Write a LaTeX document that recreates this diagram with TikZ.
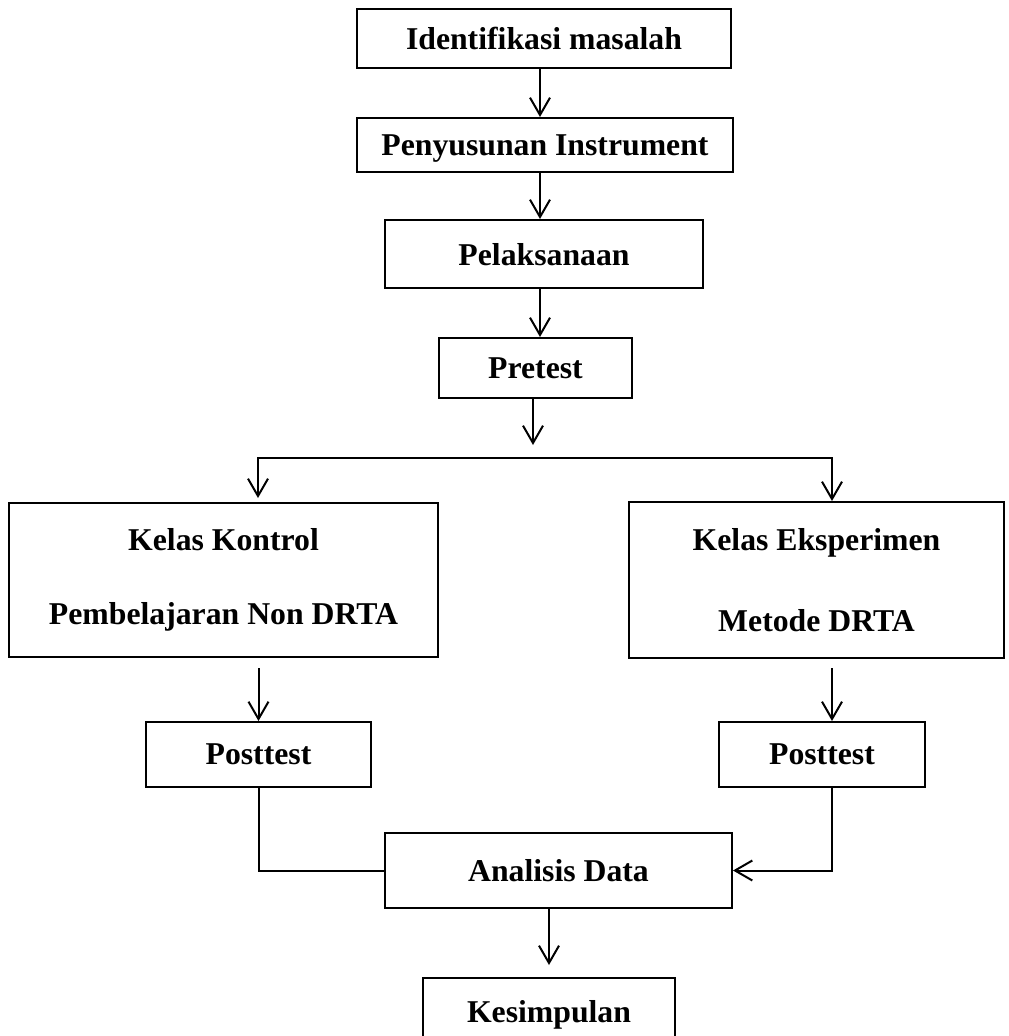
\documentclass[tikz,border=0pt]{standalone}
\usepackage{fontspec}
\setmainfont{Liberation Serif}
\usepackage{tikz}
\usetikzlibrary{arrows.meta,positioning,calc}

\begin{document}
\begin{tikzpicture}[x=0.75pt,y=-0.75pt,line width=1.5pt,
  box/.style={draw, rectangle, inner sep=0pt, text depth=0pt, font=\fontsize{23.8}{28}\selectfont\bfseries},
  bigbox/.style={draw, rectangle, inner sep=0pt, align=center, font=\fontsize{23.8}{55}\selectfont\bfseries},
  arr/.style={-{Straight Barb[length=13pt,width=15pt]}}]
\useasboundingbox (0,0) rectangle (1008,1036);
\clip (0,0) rectangle (1008,1036);

% Tahap awal
\node[box, minimum width=280.5pt, minimum height=44.25pt] (idn) at (544,38.5) {Identifikasi masalah};
\node[box, minimum width=282pt, minimum height=40.5pt] (pen) at (545,145) {Penyusunan Instrument};
\node[box, minimum width=238.5pt, minimum height=51pt] (pel) at (544,254) {Pelaksanaan};
\node[box, minimum width=144.75pt, minimum height=45pt] (pre) at (535.5,368) {Pretest};
\coordinate (midcol) at (540,0);
\foreach \a/\b in {idn/pen, pen/pel, pel/pre} {
    \draw[arr] (midcol |- \a.south) -- (midcol |- \b.north);
}

% Kelas kontrol dan kelas eksperimen
\node[bigbox, minimum width=321.75pt, minimum height=115.5pt] (kon) at (223.5,580) {Kelas Kontrol\\Pembelajaran Non DRTA};
\node[bigbox, minimum width=281.25pt, minimum height=117pt] (eks) at (816.5,580) {Kelas Eksperimen\\[6pt]Metode DRTA};
\coordinate (spl) at (533,458);
\coordinate (rcol) at (832,0);
\draw[arr, shorten >=9.75pt] (pre.south -| spl) -- (spl);
\draw[arr, shorten >=3.75pt] (spl) -| (258,503);
\draw[arr] (spl) -| (rcol |- eks.north);

% Posttest
\node[box, minimum width=168.75pt, minimum height=48.75pt] (postL) at (258.5,754.5) {Posttest};
\node[box, minimum width=154.5pt, minimum height=48.75pt] (postR) at (822,754.5) {Posttest};
\draw[arr, shorten <=7.5pt] (postL |- kon.south) -- (postL.north);
\draw[arr, shorten <=6.75pt] (rcol |- eks.south) -- (rcol |- postR.north);

% Analisis dan kesimpulan
\node[box, minimum width=260.25pt, minimum height=56.25pt] (ana) at (558.5,870.5) {Analisis Data};
\node[box, minimum width=189pt, minimum height=49.5pt] (kes) at (549,1011) {Kesimpulan};
\draw (postL.south) |- (ana.west);
\draw[arr] (rcol |- postR.south) |- (ana.east);
\draw[arr, shorten >=9pt] (ana.south -| kes) -- (kes.north);
\end{tikzpicture}
\end{document}
